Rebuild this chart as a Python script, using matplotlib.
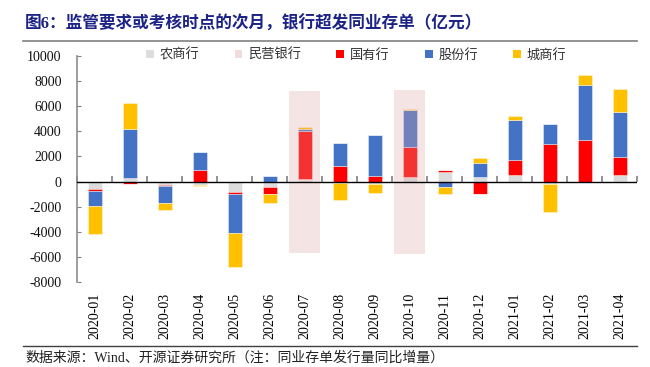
import numpy as np
import matplotlib
matplotlib.use("Agg")
import matplotlib.pyplot as plt
from matplotlib.patches import Patch
from matplotlib.lines import Line2D

months = ["2020-01", "2020-02", "2020-03", "2020-04", "2020-05", "2020-06", "2020-07", "2020-08",
          "2020-09", "2020-10", "2020-11", "2020-12", "2021-01", "2021-02", "2021-03", "2021-04"]
series_names = ["农商行", "民营银行", "国有行", "股份行", "城商行"]
rural = [-560, 265, -290, -250, -820, -400, 160, -100, -210, 340, 770, 370, 530, -190, 0, 560]
private = [0, 0, 0, 0, 0, 0, 30, 0, 0, 20, 0, 0, 0, 0, 0, 0]
state = [-190, -190, -80, 930, -160, -610, 3870, 1250, 450, 2360, 160, -1010, 1170, 3020, 3340, 1430]
joint = [-1190, 3930, -1350, 1460, -3130, 480, 160, 1860, 3240, 3000, -420, 1110, 3180, 1590, 4350, 3550]
city = [-2200, 2040, -580, -100, -2680, -690, 160, -1380, -690, 50, -610, 370, 320, -2250, 770, 1830]
highlight_months = ["2020-07", "2020-10"]
highlight_top = [7250, 7300]
highlight_bottom = [-5700, -5800]

colors = ["#dcdcdc", "#f2dcdb", "#ff0000", "#4472c4", "#ffc000"]
serif_cjk = ["Liberation Serif", "Noto Sans CJK SC"]

fig = plt.figure(figsize=(6.5, 3.67), dpi=100)
ax = fig.add_axes([77 / 650, 1 - 282 / 367, 560 / 650, 226 / 367])

x = np.arange(len(months))
pos_bottom = np.zeros(len(months))
neg_bottom = np.zeros(len(months))
for vals, c in zip([rural, private, state, joint, city], colors):
    v = np.array(vals, dtype=float)
    p = np.where(v > 0, v, 0)
    n = np.where(v < 0, v, 0)
    ax.bar(x, p, 0.4, bottom=pos_bottom, color=c, edgecolor=(1, 1, 1, 0.45), linewidth=0.6, zorder=2)
    ax.bar(x, n, 0.4, bottom=neg_bottom, color=c, edgecolor=(1, 1, 1, 0.45), linewidth=0.6, zorder=2)
    pos_bottom += p
    neg_bottom += n

hx = [months.index(m) for m in highlight_months]
ax.bar(hx, np.array(highlight_top) - np.array(highlight_bottom), 0.88, bottom=highlight_bottom,
       color="#dea7a7", alpha=0.3, linewidth=0, zorder=3)

ax.set_xlim(-0.5, len(months) - 0.5)
ax.set_ylim(-8000, 10000)
ax.set_yticks(np.arange(-8000, 10001, 2000))
ax.set_yticklabels([f"{v}" for v in range(-8000, 10001, 2000)], family="Liberation Serif", fontsize=10)
ax.set_xticks(x)
ax.set_xticklabels(months, rotation=90, family="Liberation Serif", fontsize=10)
ax.tick_params(axis="x", length=0, pad=8)
ax.tick_params(axis="y", direction="in", length=3, color="#808080", pad=11, labelcolor="#111111")

for s in ["top", "right", "bottom"]:
    ax.spines[s].set_visible(False)
ax.spines["left"].set_color("#8c8c8c")
ax.spines["left"].set_linewidth(1.2)
ax.axhline(0, color="black", linewidth=1.0, zorder=4)

sec = ax.secondary_xaxis(8000 / 18000)
sec.set_xticks(np.arange(-0.5, len(months), 1.0))
sec.tick_params(direction="in", length=4, color="#808080", width=1.2, labelbottom=False, labeltop=False)
sec.spines["bottom"].set_visible(False)
sec.spines["top"].set_visible(False)

handles = [Patch(facecolor=c, edgecolor="none") for c in colors]
fig.legend(handles, series_names, loc="center", bbox_to_anchor=(0.548, 1 - 55 / 367), ncol=5,
           frameon=False, prop={"family": "Noto Sans CJK SC", "size": 9.5},
           handlelength=0.6, handleheight=0.6, handletextpad=0.4, columnspacing=2.7, labelcolor="#333333")

fig.text(25 / 650, 1 - 24 / 367, "图6：监管要求或考核时点的次月，银行超发同业存单（亿元）",
         family=["Liberation Serif", "Noto Sans CJK SC"], fontweight="bold", fontsize=12,
         color="#1c2386", va="center", ha="left")
fig.add_artist(Line2D([22.7 / 650, 637 / 650], [1 - 40.7 / 367] * 2, color="#808080", linewidth=1.2))
fig.add_artist(Line2D([22.7 / 650, 637 / 650], [1 - 345.7 / 367] * 2, color="#404040", linewidth=1.0))
fig.text(25 / 650, 1 - 358 / 367, "数据来源：Wind、开源证券研究所（注：同业存单发行量同比增量）",
         family=serif_cjk, fontsize=10, color="#222222", va="center", ha="left")

fig.savefig("out.png", dpi=100)
